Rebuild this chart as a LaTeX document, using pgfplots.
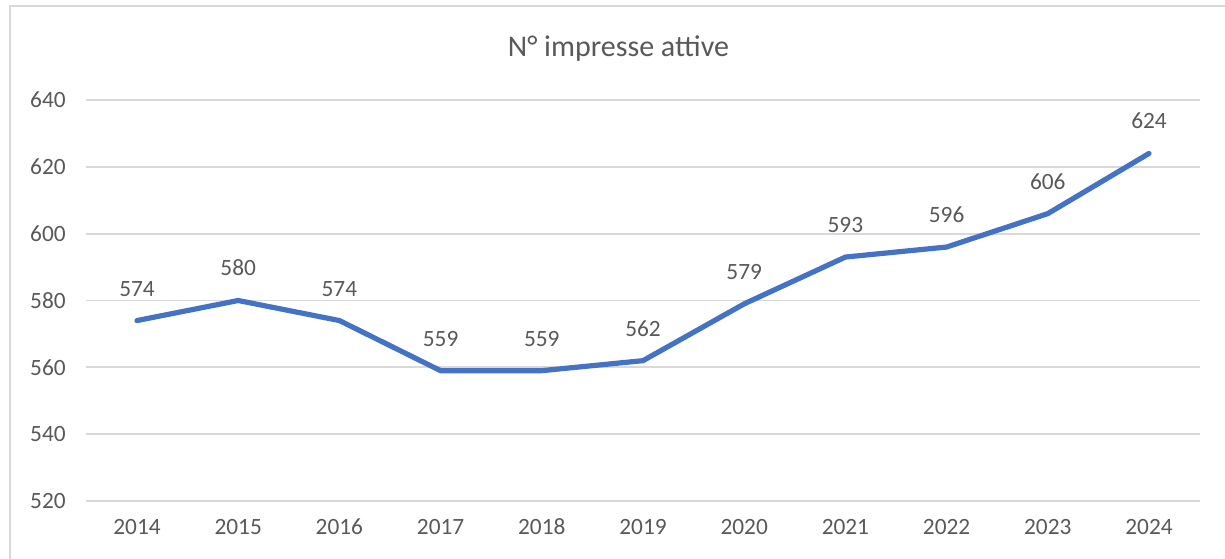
\documentclass[border=0pt]{standalone}
\usepackage{fontspec}
\setmainfont{Carlito}
\usepackage{pgfplots}
\pgfplotsset{compat=1.18}
\definecolor{linecol}{HTML}{4472C4}
\definecolor{txt}{HTML}{595959}
\definecolor{gridc}{HTML}{D9D9D9}
\begin{document}
\begin{tikzpicture}[x=0.75pt,y=0.75pt]
\useasboundingbox (-86.4,-57) rectangle (1138.6,501);
\draw[gridc, line width=1.5pt] (-76.4,-60) -- (-76.4,494.5) -- (1140,494.5);
\node[anchor=base, text=txt, font=\fontsize{22.5}{26}\selectfont] at (532,444.3) {N° impresse attive};
\begin{axis}[
  at={(0,0)}, anchor=south west, scale only axis,
  width=834.9pt, height=300.75pt,
  xmin=-0.5, xmax=10.5, ymin=520, ymax=640,
  ytick={520,540,...,640},
  xtick={0,...,10},
  xticklabels={2014,2015,2016,2017,2018,2019,2020,2021,2022,2023,2024},
  axis line style={draw=none},
  tick style={draw=none},
  ymajorgrids,
  grid style={gridc, line width=1.3pt},
  ticklabel style={font=\fontsize{17.5}{20}\selectfont, text=txt},
  /pgf/number format/assume math mode=true,
  /pgf/number format/1000 sep={},
  yticklabel style={xshift=-12pt},
  xticklabel style={yshift=-10pt},
  clip=false,
]
\addplot[linecol, line width=3.9pt, line join=round, line cap=round,
  nodes near coords,
  every node near coord/.style={font=\fontsize{17.5}{20}\selectfont, text=txt, anchor=south, yshift=13pt}]
  coordinates {(0,574) (1,580) (2,574) (3,559) (4,559) (5,562) (6,579) (7,593) (8,596) (9,606) (10,624)};
\end{axis}
\end{tikzpicture}
\end{document}
